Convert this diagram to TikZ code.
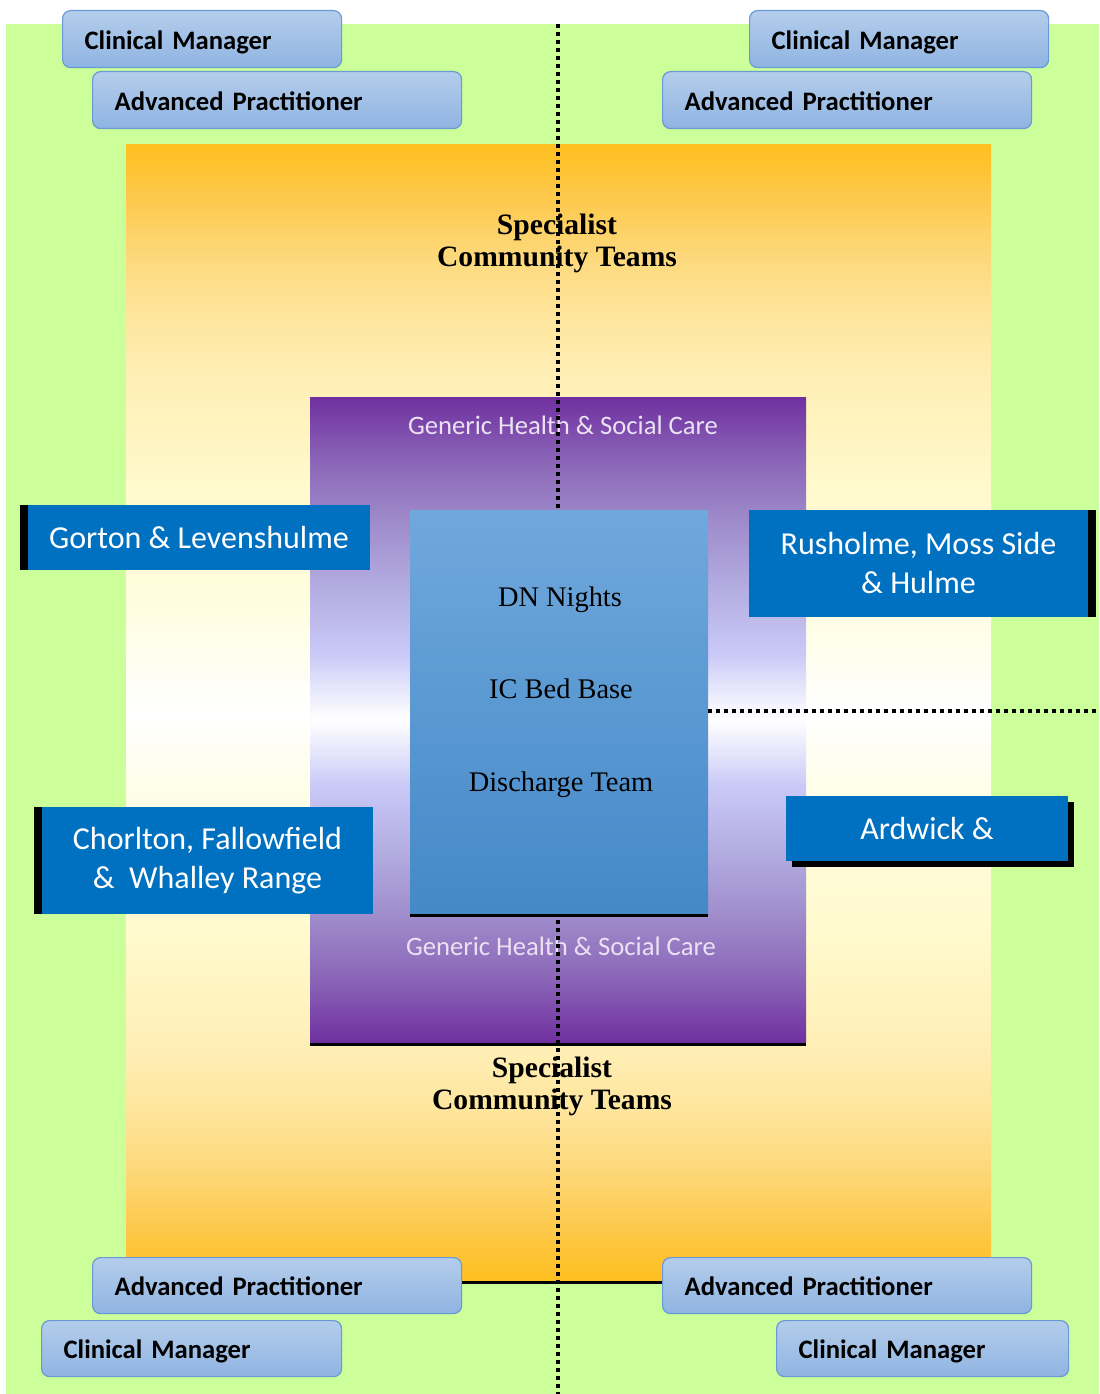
\documentclass[tikz,border=0pt]{standalone}
\usepackage{fontspec}
\newfontfamily\calfont{Carlito}
\newfontfamily\serfont{Liberation Serif}
\usetikzlibrary{shadows}
\definecolor{bggreen}{HTML}{CCFF99}
\definecolor{roletop}{HTML}{B4CDEB}
\definecolor{rolebot}{HTML}{8FB4E2}
\definecolor{roleline}{HTML}{6A9AD6}
\definecolor{distblue}{HTML}{0070C0}
\definecolor{innertop}{HTML}{70A8DC}
\definecolor{innerbot}{HTML}{4489C8}
\definecolor{gentext}{HTML}{EAE2F2}
\definecolor{or0}{HTML}{FFBF1F}
\definecolor{or1}{HTML}{FDCA4F}
\definecolor{or2}{HTML}{FDD97C}
\definecolor{or3}{HTML}{FEE59C}
\definecolor{or4}{HTML}{FFEEB4}
\definecolor{or5}{HTML}{FFF9CC}
\definecolor{or6}{HTML}{FFFDDE}
\definecolor{pu0}{HTML}{7030A0}
\definecolor{pu1}{HTML}{8B66B8}
\definecolor{pu2}{HTML}{A08ECC}
\definecolor{pu3}{HTML}{B4AEE2}
\definecolor{pu4}{HTML}{CACAF8}
\definecolor{pu5}{HTML}{E6E6FC}
\pgfdeclareverticalshading{orangesh}{100bp}{color(0bp)=(or0); color(25bp)=(or0); color(27.5bp)=(or1); color(30bp)=(or2); color(32.5bp)=(or3); color(35bp)=(or4); color(40bp)=(or5); color(45bp)=(or6); color(50bp)=(white); color(55bp)=(or6); color(60bp)=(or5); color(65bp)=(or4); color(67.5bp)=(or3); color(70bp)=(or2); color(72.5bp)=(or1); color(75bp)=(or0); color(100bp)=(or0)}
\pgfdeclareverticalshading{purplesh}{100bp}{color(0bp)=(pu0); color(25bp)=(pu0); color(30bp)=(pu1); color(35bp)=(pu2); color(40bp)=(pu3); color(45bp)=(pu4); color(47.5bp)=(pu5); color(50bp)=(white); color(52.5bp)=(pu5); color(55bp)=(pu4); color(60bp)=(pu3); color(65bp)=(pu2); color(70bp)=(pu1); color(75bp)=(pu0); color(100bp)=(pu0)}
\tikzset{
  area/.style={anchor=north west, inner sep=0pt, outer sep=0pt},
  role/.style={anchor=north west, draw=roleline, line width=0.9pt, rounded corners=6pt,
    top color=roletop, bottom color=rolebot, inner xsep=16.5pt, inner ysep=0pt,
    text height=19pt, text depth=4pt,
    align=left, text=black, font=\calfont\bfseries\fontsize{20}{24}\selectfont},
  district/.style={anchor=north west, fill=distblue, inner sep=0pt, outer sep=0pt,
    text=white, align=center, font=\calfont\fontsize{24}{29.25}\selectfont},
  divider/.style={line width=2.75pt, dash pattern=on 2.75pt off 3.25pt, black},
  spec/.style={align=center, font=\serfont\bfseries\fontsize{22.2}{24}\selectfont},
  innertext/.style={font=\serfont\fontsize{21.3}{25}\selectfont},
  gentxt/.style={text=gentext, font=\calfont\fontsize{20}{24}\selectfont},
  lowshadow/.style={drop shadow={shadow xshift=0pt, shadow yshift=-3pt, opacity=1, fill=black}},
}
\begin{document}
\begin{tikzpicture}[x=0.75pt,y=-0.75pt]
\useasboundingbox (0,0) rectangle (1099,1394);
% background areas
\node[area, fill=bggreen, minimum width=819.75pt, minimum height=1027.5pt] (bg) at (6,24) {};
\node[area, shade, shading=orangesh, minimum width=648.75pt, minimum height=851.25pt, lowshadow] (orange) at (126,145) {};
\node[area, shade, shading=purplesh, minimum width=372pt, minimum height=483.75pt, lowshadow] (purple) at (310,397) {};
% texts on the areas
\node[spec] (spectop) at (557,243.5) {Specialist\\Community Teams};
\node[spec] (specbot) at (552,1086.5) {Specialist\\Community Teams};
\node[gentxt] (gentop) at (563,425) {Generic Health \& Social Care};
\node[gentxt] (genbot) at (561,946) {Generic Health \& Social Care};
% vertical divider
\coordinate (vtop) at (558,24);
\coordinate (vbot) at (558,1394);
\draw[divider] (vtop) -- (vbot);
% inner box
\node[area, top color=innertop, bottom color=innerbot, minimum width=223.5pt, minimum height=302.25pt, lowshadow] (inner) at (410,510) {};
\node[innertext] (dn) at (560,600) {DN Nights};
\node[innertext] (ic) at (561,689) {IC Bed Base};
\node[innertext] (dt) at (561,785) {Discharge Team};
% horizontal divider
\coordinate (hl) at (708,711);
\coordinate (hr) at (1099,711);
\draw[divider] (hl) -- (hr);
% district boxes
\node[district, minimum width=256.5pt, minimum height=48.75pt,
  drop shadow={shadow xshift=-6pt, shadow yshift=0pt, opacity=1, fill=black}] (gorton) at (28,505) {Gorton \& Levenshulme};
\node[district, minimum width=254.25pt, minimum height=80.25pt,
  drop shadow={shadow xshift=6pt, shadow yshift=0pt, opacity=1, fill=black}] (rusholme) at (749,510) {Rusholme, Moss Side\\\& Hulme};
\node[district, minimum width=248.25pt, minimum height=80.25pt,
  drop shadow={shadow xshift=-6pt, shadow yshift=0pt, opacity=1, fill=black}] (chorlton) at (42,807) {Chorlton, Fallowfield\\\&~~Whalley Range};
\node[district, minimum width=211.5pt, minimum height=48.75pt,
  drop shadow={shadow xshift=4.5pt, shadow yshift=-4.5pt, opacity=1, fill=black}] (ardwick) at (786,796) {Ardwick \&};
% role boxes
\node[role, text width=176.25pt, minimum height=42.75pt] (cmtl) at (62,10) {Clinical Manager};
\node[role, text width=243.75pt, minimum height=42.75pt] (aptl) at (92,71) {Advanced Practitioner};
\node[role, text width=191.25pt, minimum height=42.75pt] (cmtr) at (749,10) {Clinical Manager};
\node[role, text width=243.75pt, minimum height=42.75pt] (aptr) at (662,71) {Advanced Practitioner};
\node[role, text width=243.75pt, minimum height=42pt] (apbl) at (92,1257) {Advanced Practitioner};
\node[role, text width=192pt, minimum height=42pt] (cmbl) at (41,1320) {Clinical Manager};
\node[role, text width=243.75pt, minimum height=42pt] (apbr) at (662,1257) {Advanced Practitioner};
\node[role, text width=186pt, minimum height=42pt] (cmbr) at (776,1320) {Clinical Manager};
\end{tikzpicture}
\end{document}
